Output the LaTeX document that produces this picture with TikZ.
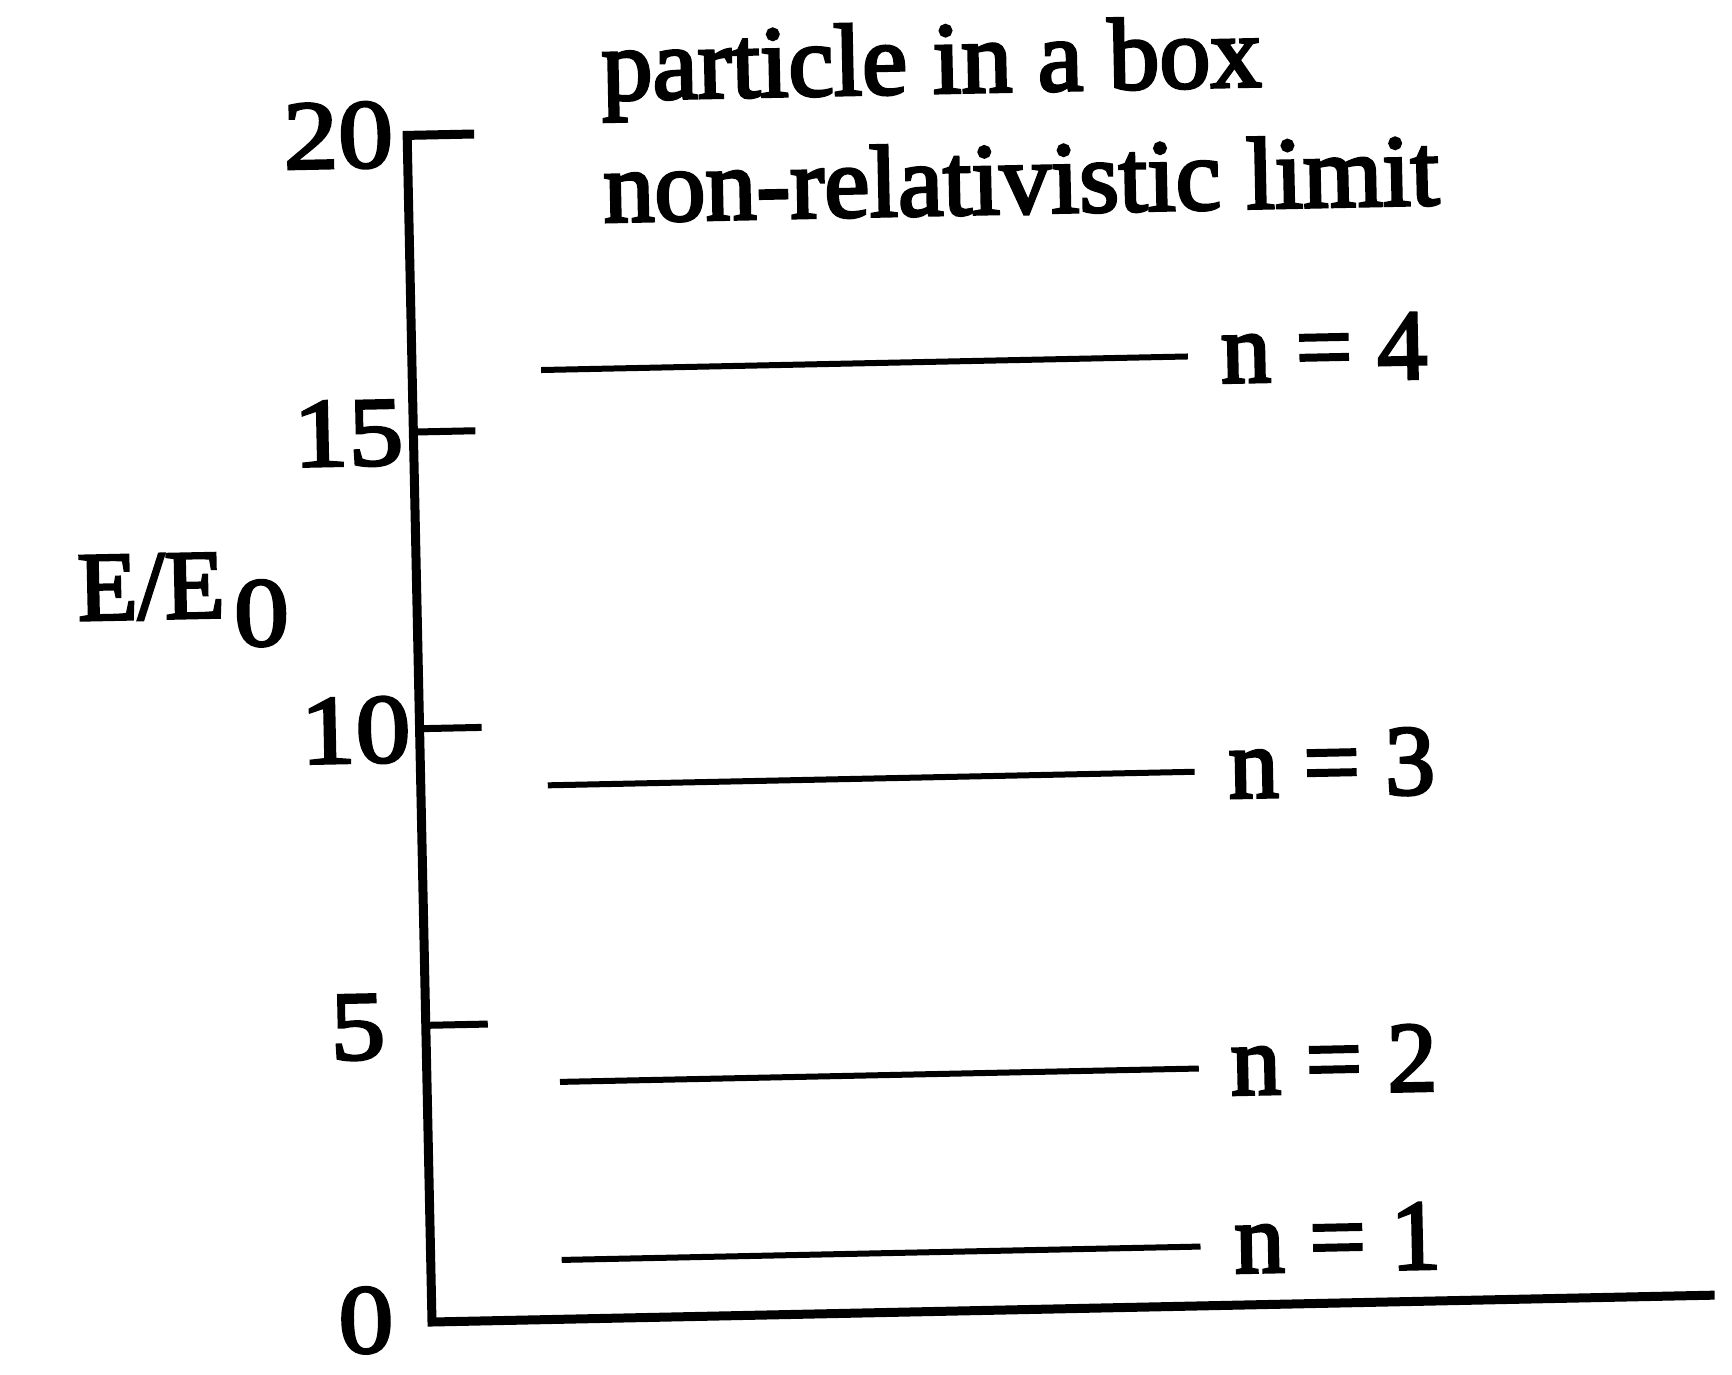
\documentclass[tikz,border=0pt]{standalone}
\usepackage{fontspec}
\newfontfamily\figfont{Liberation Serif}[FakeBold=3]
\newfontfamily\digfont{Liberation Serif}[FakeBold=3, FakeStretch=1.12]
\begin{document}
\begin{tikzpicture}[x=1pt,y=1pt,
  axisline/.style={line width=9pt, line join=miter},
  tickline/.style={line width=7pt},
  levelline/.style={line width=6pt},
  lbl/.style={font=\digfont\fontsize{98pt}{110pt}\selectfont, inner sep=0pt, outer sep=0pt},
  axl/.style={font=\figfont\fontsize{98pt}{110pt}\selectfont, inner sep=0pt, outer sep=0pt, anchor=base west},
  ttl/.style={font=\figfont\fontsize{102pt}{112pt}\selectfont, inner sep=0pt, outer sep=0pt, anchor=base west},
  lvl/.style={font=\figfont\fontsize{100pt}{110pt}\selectfont, inner sep=0pt, outer sep=0pt, anchor=base west}]
\useasboundingbox (0,0) rectangle (1732,-1375);
\fill[white] (0,0) rectangle (1732,-1375);
\begin{scope}[shift={(432,-1322)}, rotate=1.2, transform shape]
  % axes
  \coordinate (O) at (0,0);
  \coordinate (Ytop) at (0,1187);
  \coordinate (T20) at (67,1187);
  \coordinate (Xend) at (1283,0);
  \draw[axisline] (T20) -- (Ytop) -- (O) -- (Xend);
  % ticks
  \foreach \k/\e in {1/5,2/10,3/15}{
    \coordinate (ts\e) at (0,{296.75*\k});
    \coordinate (te\e) at (62,{296.75*\k});
    \draw[tickline] (ts\e) -- (te\e);
  }
  % tick labels
  \node[lbl] (L20) at (-69,1188) {20};
  \node[lbl] (L15) at (-65,890) {15};
  \node[lbl] (L10) at (-64,593) {10};
  \node[lbl] (L5)  at (-68,296) {5};
  \node[lbl] (L0)  at (-66,3) {0};
  % axis label
  \node[axl] (EL) at (-339,709) {E/E\hspace{9pt}\raisebox{-29pt}{\digfont 0}};
  % title
  \node[ttl] (T1) at (195.6,1218.2) {particle in a box};
  \node[ttl] (T2) at (195,1096.2) {non-relativistic limit};
  % levels
  \coordinate (n1s) at (131,59.35);  \coordinate (n1e) at (770,59.35);
  \coordinate (n2s) at (133,237.4);  \coordinate (n2e) at (772,237.4);
  \coordinate (n3s) at (127,534.2);  \coordinate (n3e) at (774,534.2);
  \coordinate (n4s) at (129,949.6);  \coordinate (n4e) at (776,949.6);
  \draw[levelline] (n1s) -- (n1e);
  \draw[levelline] (n2s) -- (n2e);
  \draw[levelline] (n3s) -- (n3e);
  \draw[levelline] (n4s) -- (n4e);
  \node[lvl] (N1) at (804,{59.35-27}) {n = 1};
  \node[lvl] (N2) at (804,{237.4-27}) {n = 2};
  \node[lvl] (N3) at (808,{534.2-27}) {n = 3};
  \node[lvl] (N4) at (809,{949.6-27}) {n = 4};
\end{scope}
\end{tikzpicture}
\end{document}
